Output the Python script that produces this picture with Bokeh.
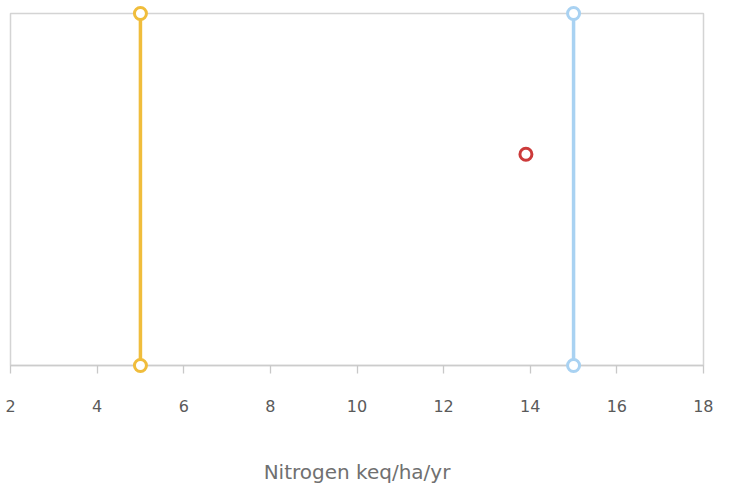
from bokeh.plotting import figure
from bokeh.models import Range1d, FixedTicker
from bokeh.embed import file_html
from bokeh.resources import INLINE

# Data
x_ticks = [2, 4, 6, 8, 10, 12, 14, 16, 18]
low_x = [5, 5]
low_y = [0, 1]
high_x = [15, 15]
high_y = [0, 1]
point_x = [13.9]
point_y = [0.6]
x_title = "Nitrogen keq/ha/yr"

YEL = "#f0bd3c"
BLU = "#a9d2f2"
RED = "#cc3a3a"

p = figure(width=713, height=486,
           x_range=Range1d(2, 18), y_range=Range1d(0, 1),
           output_backend="svg", toolbar_location=None, y_axis_location=None,
           min_border_left=10, min_border_right=10, min_border_top=13)
p.outline_line_color = "#d4d4d4"
p.outline_line_width = 1.5
p.xgrid.visible = False
p.ygrid.visible = False
p.background_fill_color = "white"
p.border_fill_color = "white"

p.line(low_x, low_y, line_color=YEL, line_width=3.5)
p.scatter(low_x, low_y, marker="circle", size=12, fill_color="white",
          line_color=YEL, line_width=3, level="overlay")
p.line(high_x, high_y, line_color=BLU, line_width=3.5)
p.scatter(high_x, high_y, marker="circle", size=12, fill_color="white",
          line_color=BLU, line_width=3, level="overlay")
p.scatter(point_x, point_y, marker="circle", size=12, fill_color="white",
          line_color=RED, line_width=3, level="overlay")

xa = p.xaxis[0]
xa.ticker = FixedTicker(ticks=x_ticks)
xa.axis_line_color = "#cccccc"
xa.axis_line_width = 1.5
xa.major_tick_line_color = "#c8c8c8"
xa.major_tick_line_width = 1.3
xa.major_tick_out = 8
xa.major_tick_in = 0
xa.minor_tick_line_color = None
xa.major_label_standoff = 26
xa.major_label_text_font = "DejaVu Sans"
xa.major_label_text_font_size = "16px"
xa.major_label_text_color = "#5a5a5a"
xa.axis_label = x_title
xa.axis_label_text_font = "DejaVu Sans"
xa.axis_label_text_font_size = "20px"
xa.axis_label_text_font_style = "normal"
xa.axis_label_text_color = "#707070"
xa.axis_label_standoff = 45

open("out.html", "w").write(file_html(p, INLINE))
